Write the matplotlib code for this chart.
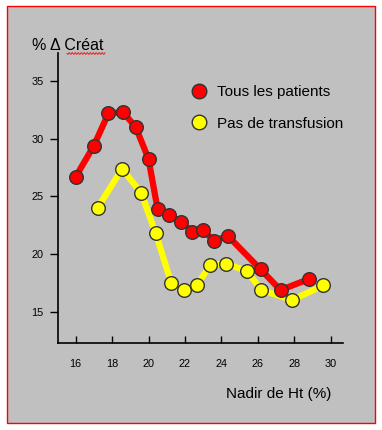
import numpy as np
import matplotlib
matplotlib.use('Agg')
import matplotlib.pyplot as plt
from matplotlib.lines import Line2D
from matplotlib.patches import Rectangle

plt.rcParams['font.family'] = ['Liberation Sans', 'DejaVu Sans']

# Data
ht_all = [16.0, 17.0, 17.8, 18.6, 19.3, 20.0, 20.5, 21.1, 21.8, 22.4, 23.0, 23.6, 24.35, 26.15, 27.25, 28.8]
creat_all = [26.7, 29.4, 32.2, 32.3, 31.0, 28.25, 23.9, 23.4, 22.8, 21.95, 22.1, 21.15, 21.6, 18.7, 16.9, 17.85]

ht_notransf = [17.2, 18.55, 19.6, 20.4, 21.25, 21.95, 22.65, 23.4, 24.25, 25.4, 26.2, 27.9, 29.6]
creat_notransf = [24.0, 27.4, 25.3, 21.8, 17.5, 16.9, 17.3, 19.1, 19.2, 18.55, 16.9, 16.05, 17.3]

xticks = [16, 18, 20, 22, 24, 26, 28, 30]
yticks = [15, 20, 25, 30, 35]

RED = '#ff0000'
YELLOW = '#ffff00'
GRAY = '#c0c0c0'

fig = plt.figure(figsize=(3.82, 4.30), dpi=100)
fig.patch.set_facecolor('white')

# grey panel with red border
W, H = 382, 430
fig.patches.append(Rectangle((7 / W, (H - 423) / H), (375 - 7) / W, (423 - 6) / H,
                             transform=fig.transFigure, facecolor=GRAY,
                             edgecolor=RED, linewidth=1.0, zorder=-10))

ax = fig.add_axes([58 / W, 87 / H, (343 - 58) / W, (343 - 53) / H])
ax.patch.set_visible(False)

mk = dict(marker='o', markersize=9.8, markeredgecolor='#333333', markeredgewidth=1.0)
ax.plot(ht_notransf, creat_notransf, color=YELLOW, linewidth=4.5, markerfacecolor=YELLOW,
        solid_joinstyle='round', zorder=2, **mk)
ax.plot(ht_all, creat_all, color=RED, linewidth=4.5, markerfacecolor=RED,
        solid_joinstyle='round', zorder=3, **mk)

ax.set_xlim(15.03, 30.68)
ax.set_ylim(12.32, 37.42)
ax.set_xticks(xticks)
ax.set_yticks(yticks)
ax.tick_params(axis='x', direction='in', length=5, width=1, pad=11.5, labelsize=7.8)
ax.tick_params(axis='y', direction='out', length=5.5, width=1, pad=5, labelsize=7.8)
for s in ['top', 'right']:
    ax.spines[s].set_visible(False)
for s in ['left', 'bottom']:
    ax.spines[s].set_linewidth(1.2)

# titles
fig.text(32 / W, 1 - 46 / H, '% \u0394 Créat', fontsize=11.5, va='center', ha='left')
fig.text(331 / W, 1 - 394 / H, 'Nadir de Ht (%)', fontsize=11, va='center', ha='right')

# red spell-check squiggle under "Créat"
sx = np.linspace(67, 105, 60)
sy = 53.5 + 0.9 * np.sin((sx - 67) * 2 * np.pi / 3.0)
fig.add_artist(Line2D(sx / W, 1 - sy / H, transform=fig.transFigure,
                      color=RED, linewidth=0.6))

handles = [
    Line2D([], [], linestyle='none', marker='o', markersize=10.5, markerfacecolor=RED,
           markeredgecolor='#333333', markeredgewidth=1.0),
    Line2D([], [], linestyle='none', marker='o', markersize=10.5, markerfacecolor=YELLOW,
           markeredgecolor='#333333', markeredgewidth=1.0),
]
ax.legend(handles, ['Tous les patients', 'Pas de transfusion'], loc='upper left',
          bbox_to_anchor=((184 - 58) / (343 - 58), 1 - (79 - 53) / (343 - 53)),
          frameon=False, fontsize=11, handletextpad=0.53, labelspacing=1.14,
          borderaxespad=0, handlelength=1.2)

fig.savefig('out.png', dpi=100, facecolor='white')
